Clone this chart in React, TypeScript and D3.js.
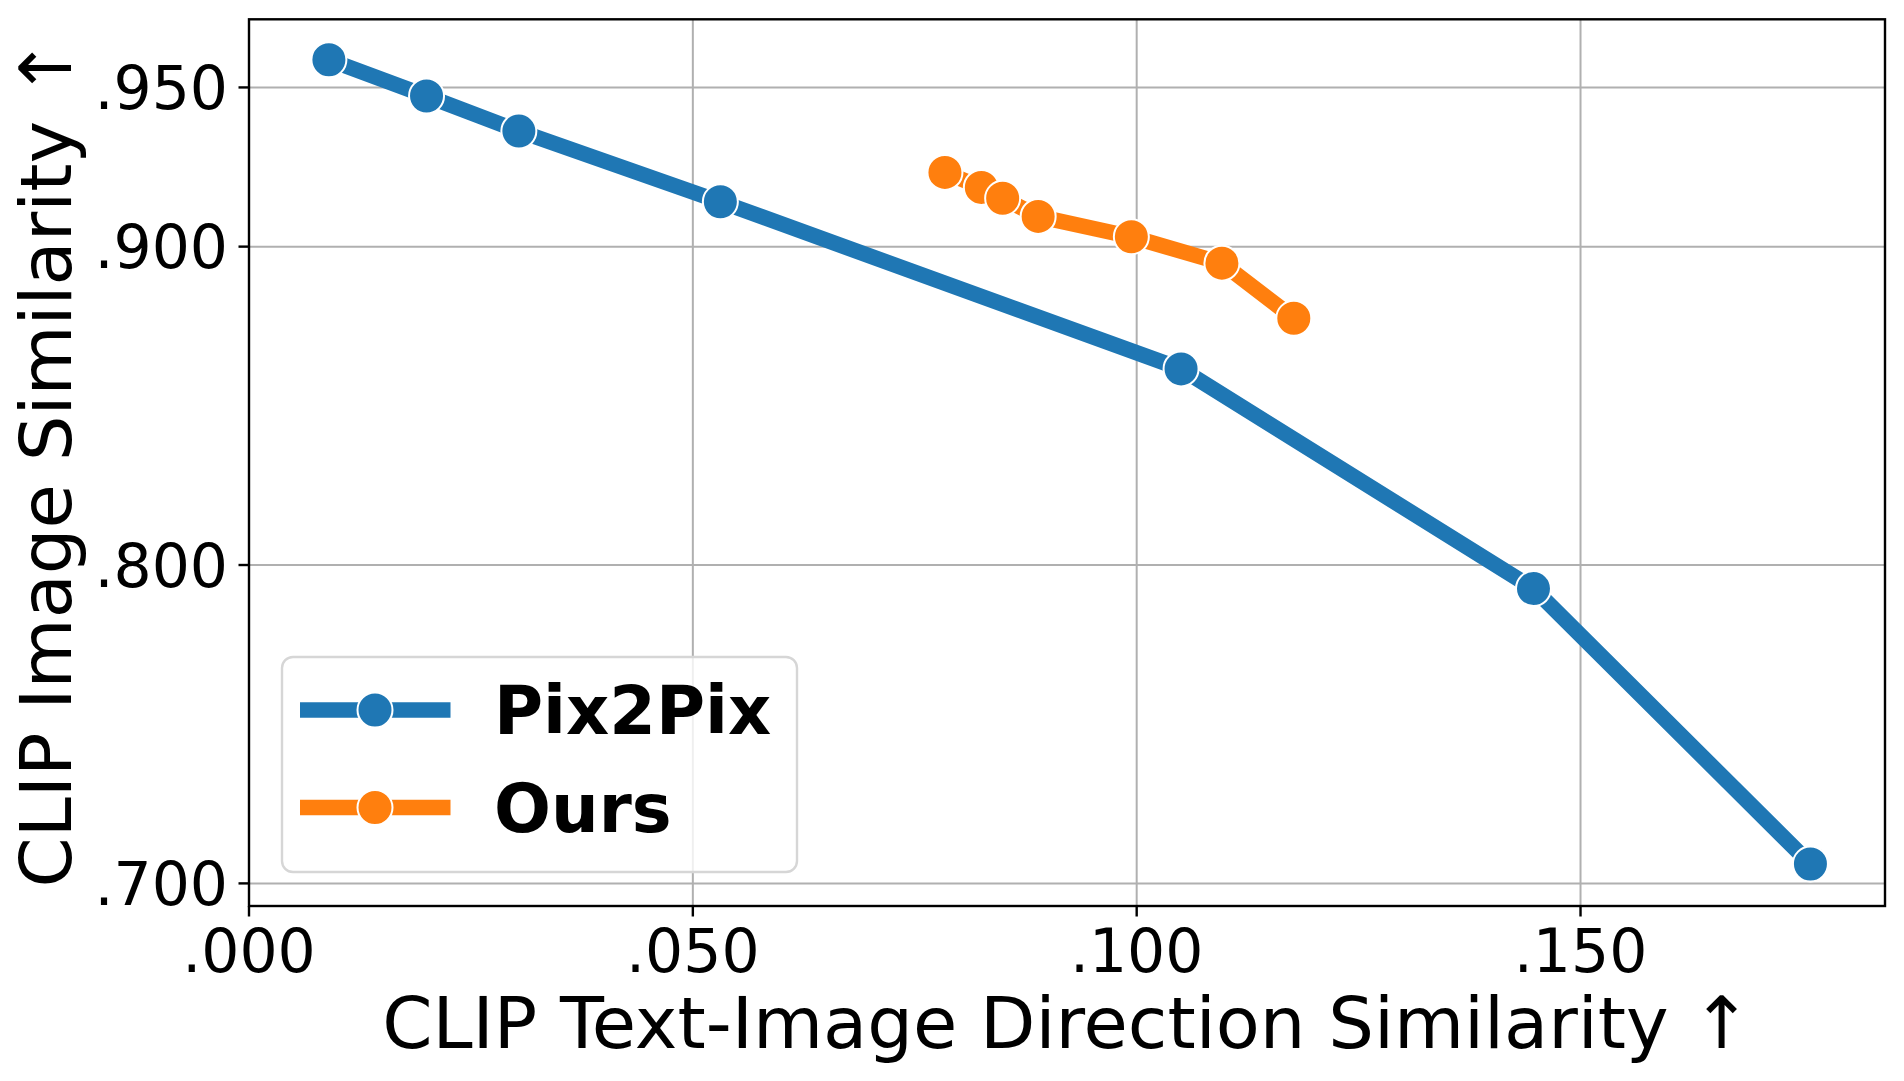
import React from "react";
import * as d3 from "d3";

// CLIP text-image direction similarity (x) vs CLIP image similarity (y)
const pix2pixX = [0.009, 0.02, 0.0304, 0.0531, 0.105, 0.1447, 0.1759];
const pix2pixY = [0.9587, 0.9473, 0.9363, 0.9141, 0.8616, 0.7926, 0.7061];
const oursX = [0.0784, 0.0825, 0.0849, 0.0889, 0.0994, 0.1096, 0.1177];
const oursY = [0.9233, 0.9186, 0.9152, 0.9095, 0.9031, 0.8948, 0.8775];

const seriesNames = ["Pix2Pix", "Ours"];
const seriesColors = ["#1f77b4", "#ff7f0e"];

const xTicks = [0, 0.05, 0.1, 0.15];
const yTicks = [0.7, 0.8, 0.9, 0.95];

const W = 1904;
const H = 1081;
const margin = { left: 249, right: W - 1885, top: 19.3, bottom: H - 906 };
const FONT = "DejaVu Sans";

const fmt = (v: number) => d3.format(".3f")(v).replace(/^0/, "");

const App = () => {
  const x = d3.scaleLinear().domain([0, 0.1843]).range([margin.left, W - margin.right]);
  const y = d3.scaleLinear().domain([0.6929, 0.9714]).range([H - margin.bottom, margin.top]);

  const series = [
    { name: seriesNames[0], color: seriesColors[0], pts: pix2pixX.map((v, i) => [v, pix2pixY[i]]) },
    { name: seriesNames[1], color: seriesColors[1], pts: oursX.map((v, i) => [v, oursY[i]]) },
  ];

  const line = d3
    .line<number[]>()
    .x((d) => x(d[0]))
    .y((d) => y(d[1]));

  const [x0, x1] = x.range();
  const [y0, y1] = y.range();

  // legend layout
  const lg = { x: 282, y: 657, w: 515, h: 215 };
  const rowY = [710, 807.5];

  return (
    <svg
      width={W}
      height={H}
      style={{ position: "absolute", left: 0, top: 0, background: "#fff" }}
      fontFamily={FONT}
    >
      <rect x={0} y={0} width={W} height={H} fill="#fff" />

      {/* grid */}
      {xTicks.map((t) => (
        <line key={"gx" + t} x1={x(t)} x2={x(t)} y1={y1} y2={y0} stroke="#b0b0b0" strokeWidth={2} />
      ))}
      {yTicks.map((t) => (
        <line key={"gy" + t} x1={x0} x2={x1} y1={y(t)} y2={y(t)} stroke="#b0b0b0" strokeWidth={2} />
      ))}

      {/* series */}
      {series.map((s) => (
        <g key={s.name}>
          <path d={line(s.pts) || ""} fill="none" stroke={s.color} strokeWidth={15.5} strokeLinejoin="round" />
          {s.pts.map((p, i) => (
            <circle key={i} cx={x(p[0])} cy={y(p[1])} r={17.5} fill={s.color} stroke="#fff" strokeWidth={2} />
          ))}
        </g>
      ))}

      {/* spines */}
      <rect x={x0} y={y1} width={x1 - x0} height={y0 - y1} fill="none" stroke="#000" strokeWidth={2.4} />

      {/* x ticks */}
      {xTicks.map((t) => (
        <g key={"xt" + t}>
          <line x1={x(t)} x2={x(t)} y1={y0} y2={y0 + 10.5} stroke="#000" strokeWidth={2.4} />
          <text x={x(t)} y={972} textAnchor="middle" fontSize={60}>
            {fmt(t)}
          </text>
        </g>
      ))}

      {/* y ticks */}
      {yTicks.map((t) => (
        <g key={"yt" + t}>
          <line x1={x0 - 10.5} x2={x0} y1={y(t)} y2={y(t)} stroke="#000" strokeWidth={2.4} />
          <text x={228} y={y(t)} dy="0.36em" textAnchor="end" fontSize={60}>
            {fmt(t)}
          </text>
        </g>
      ))}

      {/* axis labels */}
      <text x={(x0 + x1) / 2} y={1048} textAnchor="middle" fontSize={72}>
        CLIP Text-Image Direction Similarity ↑
      </text>
      <text
        transform={`translate(71, ${(y0 + y1) / 2}) rotate(-90)`}
        textAnchor="middle"
        fontSize={72}
      >
        CLIP Image Similarity ↑
      </text>

      {/* legend */}
      <rect
        x={lg.x}
        y={lg.y}
        width={lg.w}
        height={lg.h}
        rx={11}
        fill="#fff"
        fillOpacity={0.8}
        stroke="#d6d6d6"
        strokeWidth={2.4}
      />
      {series.map((s, i) => (
        <g key={"lg" + s.name}>
          <line x1={300} x2={450.5} y1={rowY[i]} y2={rowY[i]} stroke={s.color} strokeWidth={15.5} />
          <circle cx={375} cy={rowY[i]} r={17.5} fill={s.color} stroke="#fff" strokeWidth={2} />
          <text x={494} y={rowY[i]} dy="0.36em" fontSize={67} fontWeight="bold">
            {s.name}
          </text>
        </g>
      ))}
    </svg>
  );
};

export default App;
